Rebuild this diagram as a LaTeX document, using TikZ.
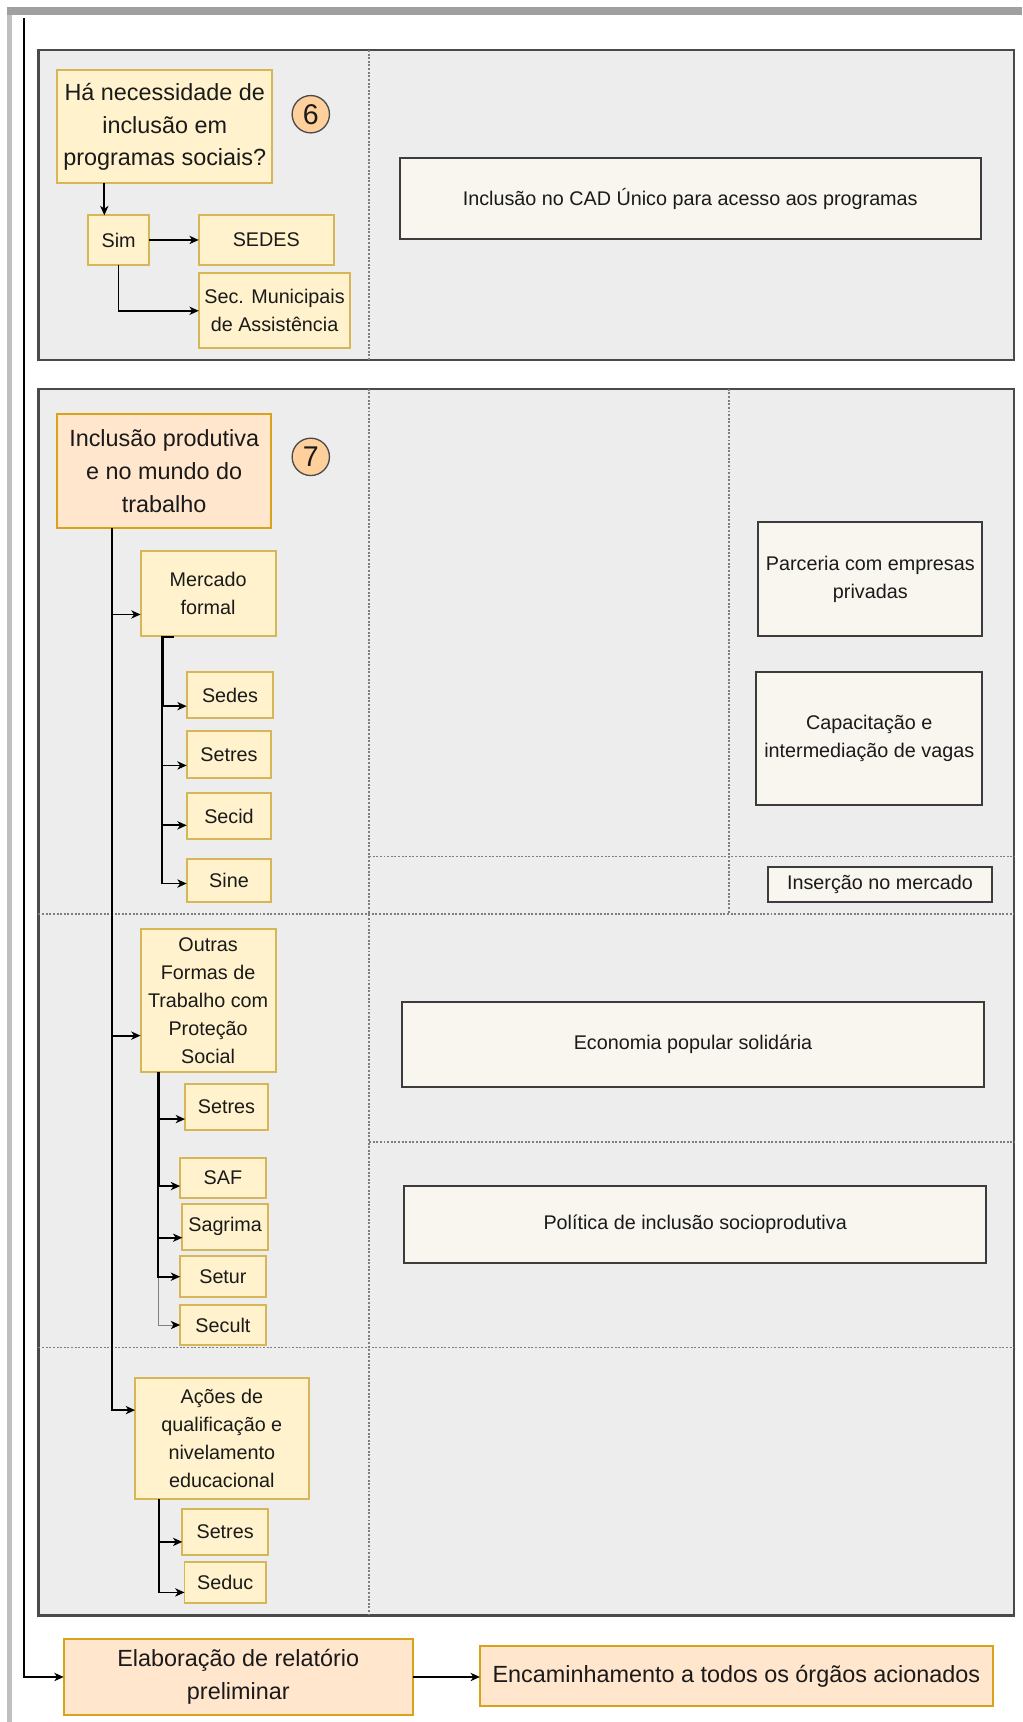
\documentclass[tikz,border=0pt]{standalone}
\usepackage{fontspec}
\setmainfont{Liberation Sans}
\usetikzlibrary{arrows.meta}

\definecolor{panelfill}{HTML}{EDEDED}
\definecolor{paneldraw}{HTML}{4A4A4A}
\definecolor{yfill}{HTML}{FFF2CC}
\definecolor{ydraw}{HTML}{D6B656}
\definecolor{ofill}{HTML}{FFE6CC}
\definecolor{odraw}{HTML}{D9A21B}
\definecolor{cfill}{HTML}{F8F6EE}
\definecolor{cdraw}{HTML}{3C3C3C}
\definecolor{badgefill}{HTML}{FFCF9C}
\definecolor{framegray}{HTML}{A0A0A0}
\definecolor{edgegray}{HTML}{C0C0C0}
\definecolor{dotgray}{HTML}{7E7E7E}
\definecolor{ink}{HTML}{1A1A1A}

\begin{document}
\begin{tikzpicture}[x=1pt,y=-1pt,
  bigtxt/.style={font=\fontsize{21.3}{30}\selectfont},
  smalltxt/.style={font=\fontsize{18}{25.5}\selectfont},
  box/.style={rectangle, inner sep=0pt, outer sep=0pt, align=center, text=ink, line width=1.8pt},
  ybox/.style={box, fill=yfill, draw=ydraw, smalltxt},
  obox/.style={box, fill=ofill, draw=odraw, bigtxt},
  cbox/.style={box, fill=cfill, draw=cdraw, smalltxt},
  wh/.style 2 args={minimum width=#1pt, minimum height=#2pt},
  badge/.style={circle, fill=badgefill, draw=paneldraw, line width=1.2pt, minimum size=34pt,
    inner sep=0pt, font=\fontsize{26}{26}\selectfont, text=ink},
  panel/.style={fill=panelfill, draw=paneldraw, line width=2pt},
  divider/.style={draw=dotgray, line width=1.5pt, dash pattern=on 1.8pt off 1.5pt},
  conn/.style={draw=black, line width=1.6pt, -{Stealth[length=8.5pt,width=7.5pt,inset=2.5pt]}},
  thinconn/.style={draw=gray, line width=0.9pt, -{Stealth[length=8.5pt,width=7.5pt,inset=2.5pt,black]}},
]
% page area
\fill[white] (0,0) rectangle (931,1568);
\useasboundingbox (0,0) rectangle (931,1568);

% page frame (top and left edges)
\draw[edgegray, line width=3.9pt] (8.65,6.7) -- (8.65,1568);
\draw[framegray, line width=7pt] (6.7,10.2) -- (931,10.2);

% ---------- step 6 panel ----------
\draw[panel] (35,45.5) rectangle (923.5,328);
\draw[divider] (336,45.5) -- (336,328);

\node[ybox, bigtxt, wh={196}{103}] (q) at (150,115.5)
  {Há necessidade de\\inclusão em\\programas sociais?};
\node[badge] (b6) at (283,104) {6};
\node[ybox, wh={56}{45}] (sim) at (108,218.5) {Sim};
\node[ybox, wh={123}{45}] (sedesA) at (242.5,218.5) {SEDES};
\node[ybox, wh={138}{68}] (secm) at (250,283) {Sec. Municipais\\de Assistência};
\node[cbox, wh={529}{74}] (cad) at (628.5,181)
  {Inclusão no CAD Único para acesso aos programas};

% ---------- step 7 panel ----------
\draw[panel] (35,354) rectangle (923.5,1471);
\draw[divider] (336,354) -- (336,1471);
\draw[divider] (664,354) -- (664,832);
\draw[divider] (336,780) -- (923.5,780);
\draw[divider] (35,832) -- (923.5,832);
\draw[divider] (336,1040) -- (923.5,1040);
\draw[divider] (35,1227) -- (923.5,1227);

\node[obox, wh={195}{104}] (ip) at (149.5,429)
  {Inclusão produtiva\\e no mundo do\\trabalho};
\node[badge] (b7) at (283,416) {7};

% formal market
\node[ybox, wh={123}{77}] (mf) at (189.5,540.5) {Mercado\\formal};
\node[ybox, wh={79}{42}] (sd) at (209.5,633) {Sedes};
\node[ybox, wh={77}{42}] (st1) at (208.5,687) {Setres};
\node[ybox, wh={77}{42}] (sc) at (208.5,743) {Secid};
\node[ybox, wh={77}{39}] (sn) at (208.5,801.5) {Sine};
\node[cbox, wh={204}{104}] (par) at (792.5,527.5) {Parceria com empresas\\privadas};
\node[cbox, wh={206}{121}] (cap) at (791.5,672.5) {Capacitação e\\intermediação de vagas};
\node[cbox, wh={203.5}{31.5}] (ins) at (801.25,805.25) {Inserção no mercado};

% other forms of work
\node[ybox, wh={123}{130}] (ofs) at (189.5,911)
  {Outras\\Formas de\\Trabalho com\\Proteção\\Social};
\node[ybox, wh={75.5}{42}] (st2) at (206.25,1008) {Setres};
\node[ybox, wh={78}{37}] (saf) at (203,1072.5) {SAF};
\node[ybox, wh={78}{42}] (sag) at (205,1117) {Sagrima};
\node[ybox, wh={78}{37}] (setur) at (203,1162.5) {Setur};
\node[ybox, wh={78}{37}] (secult) at (203,1206.5) {Secult};
\node[cbox, wh={530}{78}] (eco) at (631,951) {Economia popular solidária};
\node[cbox, wh={530}{70}] (pol) at (633,1115) {Política de inclusão socioprodutiva};

% qualification actions
\node[ybox, wh={158}{110}] (acq) at (202,1310)
  {Ações de\\qualificação e\\nivelamento\\educacional};
\node[ybox, wh={78}{42}] (st3) at (205,1395) {Setres};
\node[ybox, wh={74}{38}] (sdc) at (205,1441) {Seduc};

% ---------- closing steps ----------
\node[obox, wh={318}{70}] (elab) at (217,1527) {Elaboração de relatório\\preliminar};
\node[obox, wh={467}{54}] (enc) at (670.5,1526) {Encaminhamento a todos os órgãos acionados};

% ---------- connectors ----------
\coordinate (flowin) at (22,16.7);
\draw[conn] (flowin) |- (elab.west);
\draw[conn] (elab.east) -- (elab.east -| enc.west);

\coordinate (qout) at ([xshift=43pt]q.south west);
\draw[conn] (qout) -- (qout |- sim.north);
\draw[conn] (sim.east) -- (sedesA.west);
\draw[conn] (sim.south) |- (secm.west);

\coordinate (ipout) at ([xshift=50pt]ip.south west);
\draw[conn] (ipout) |- ([yshift=-19pt]mf.west);
\draw[conn] (ipout) |- ([yshift=-32pt]ofs.west);
\draw[conn] (ipout) |- ([yshift=26pt]acq.west);

\coordinate (mfout) at ([xshift=19.5pt]mf.south west);
\coordinate (mfoutb) at ([xshift=20.8pt]mf.south west);
\coordinate (mfstub) at ([xshift=30pt,yshift=-1pt]mf.south west);
\draw[conn] (mfoutb) |- ([yshift=-10pt]sd.west);
\draw[conn] (mfout) |- ([yshift=-10pt]st1.west);
\draw[conn] (mfout) |- ([yshift=-8.5pt]sc.west);
\draw[conn] (mfstub) -- (mfstub -| mfout) |- ([yshift=-3pt]sn.west);

\coordinate (ofsout) at ([xshift=16pt]ofs.south west);
\coordinate (ofsoutb) at ([xshift=17.2pt]ofs.south west);
\draw[thinconn] (ofsout) |- (secult.west);
\draw[conn] (ofsoutb) |- ([yshift=-11pt]st2.west);
\draw[conn] (ofsoutb) |- ([yshift=-7.5pt]saf.west);
\draw[conn] (ofsout) |- ([yshift=-10pt]sag.west);
\draw[conn] (ofsout) |- (setur.west);

\coordinate (acqout) at ([xshift=22pt]acq.south west);
\draw[conn] (acqout) |- ([yshift=-9pt]st3.west);
\draw[conn] (acqout) |- ([yshift=-9pt]sdc.west);
\end{tikzpicture}
\end{document}
